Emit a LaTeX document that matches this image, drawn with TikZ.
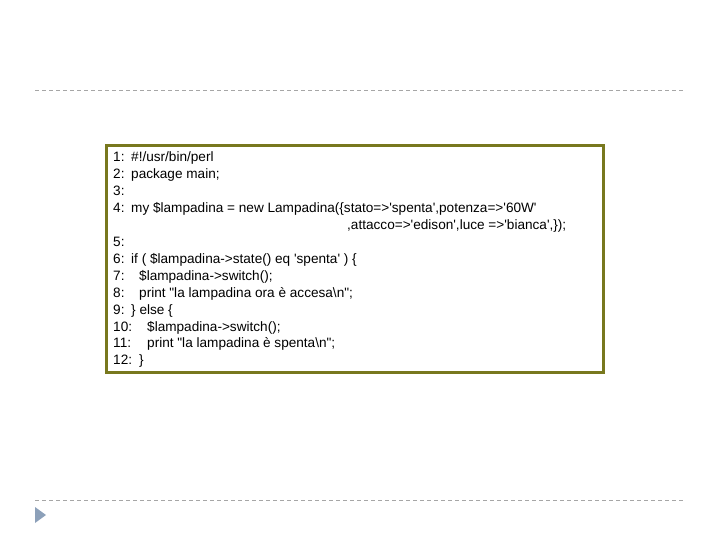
\documentclass[tikz,border=0pt]{standalone}
\usepackage{fontspec}
\setmainfont{Liberation Sans}[Ligatures=TeXOff]
\begin{document}
\begin{tikzpicture}[x=1pt,y=-1pt,
  ln/.style={anchor=base west,inner sep=0pt,font=\fontsize{13.6}{15}\selectfont},
  sep/.style={draw=gray!70,dashed,dash pattern=on 4pt off 3pt,line width=0.8pt}]
\useasboundingbox (0,0) rectangle (720,540);
\coordinate (l1) at (35,90); \coordinate (r1) at (685,90);
\coordinate (l2) at (35,500); \coordinate (r2) at (685,500);
\draw[sep] (l1) -- (r1);
\draw[sep] (l2) -- (r2);
\fill[fill={rgb,255:red,140;green,160;blue,185}] (35,507) -- (46,515) -- (35,523) -- cycle;
\node[draw={rgb,255:red,120;green,120;blue,30},line width=3pt,minimum width=497pt,minimum height=226pt,inner sep=0pt] (box) at (354.5,259) {};
\node[ln] (n1) at (113,{162+16.9*0}) {1:};
\node[ln] (c1) at (131,{162+16.9*0}) {\#!/usr/bin/perl};
\node[ln] (n2) at (113,{162+16.9*1}) {2:};
\node[ln] (c2) at (131,{162+16.9*1}) {package main;};
\node[ln] (n3) at (113,{162+16.9*2}) {3:};
\node[ln] (n4) at (113,{162+16.9*3}) {4:};
\node[ln] (c4) at (131,{162+16.9*3}) {my \$lampadina = new Lampadina(\{stato=>'spenta',potenza=>'60W'};
\node[ln] (c4b) at (347,{162+16.9*4}) {,attacco=>'edison',luce =>'bianca',\});};
\node[ln] (n5) at (113,{162+16.9*5}) {5:};
\node[ln] (n6) at (113,{162+16.9*6}) {6:};
\node[ln] (c6) at (131,{162+16.9*6}) {if ( \$lampadina->state() eq 'spenta' ) \{};
\node[ln] (n7) at (113,{162+16.9*7}) {7:};
\node[ln] (c7) at (139,{162+16.9*7}) {\$lampadina->switch();};
\node[ln] (n8) at (113,{162+16.9*8}) {8:};
\node[ln] (c8) at (139,{162+16.9*8}) {print "la lampadina ora è accesa\textbackslash n";};
\node[ln] (n9) at (113,{162+16.9*9}) {9:};
\node[ln] (c9) at (131,{162+16.9*9}) {\} else \{};
\node[ln] (n10) at (113,{162+16.9*10}) {10:};
\node[ln] (c10) at (147,{162+16.9*10}) {\$lampadina->switch();};
\node[ln] (n11) at (113,{162+16.9*11}) {11:};
\node[ln] (c11) at (147,{162+16.9*11}) {print "la lampadina è spenta\textbackslash n";};
\node[ln] (n12) at (113,{162+16.9*12}) {12:};
\node[ln] (c12) at (139,{162+16.9*12}) {\}};
\end{tikzpicture}
\end{document}
